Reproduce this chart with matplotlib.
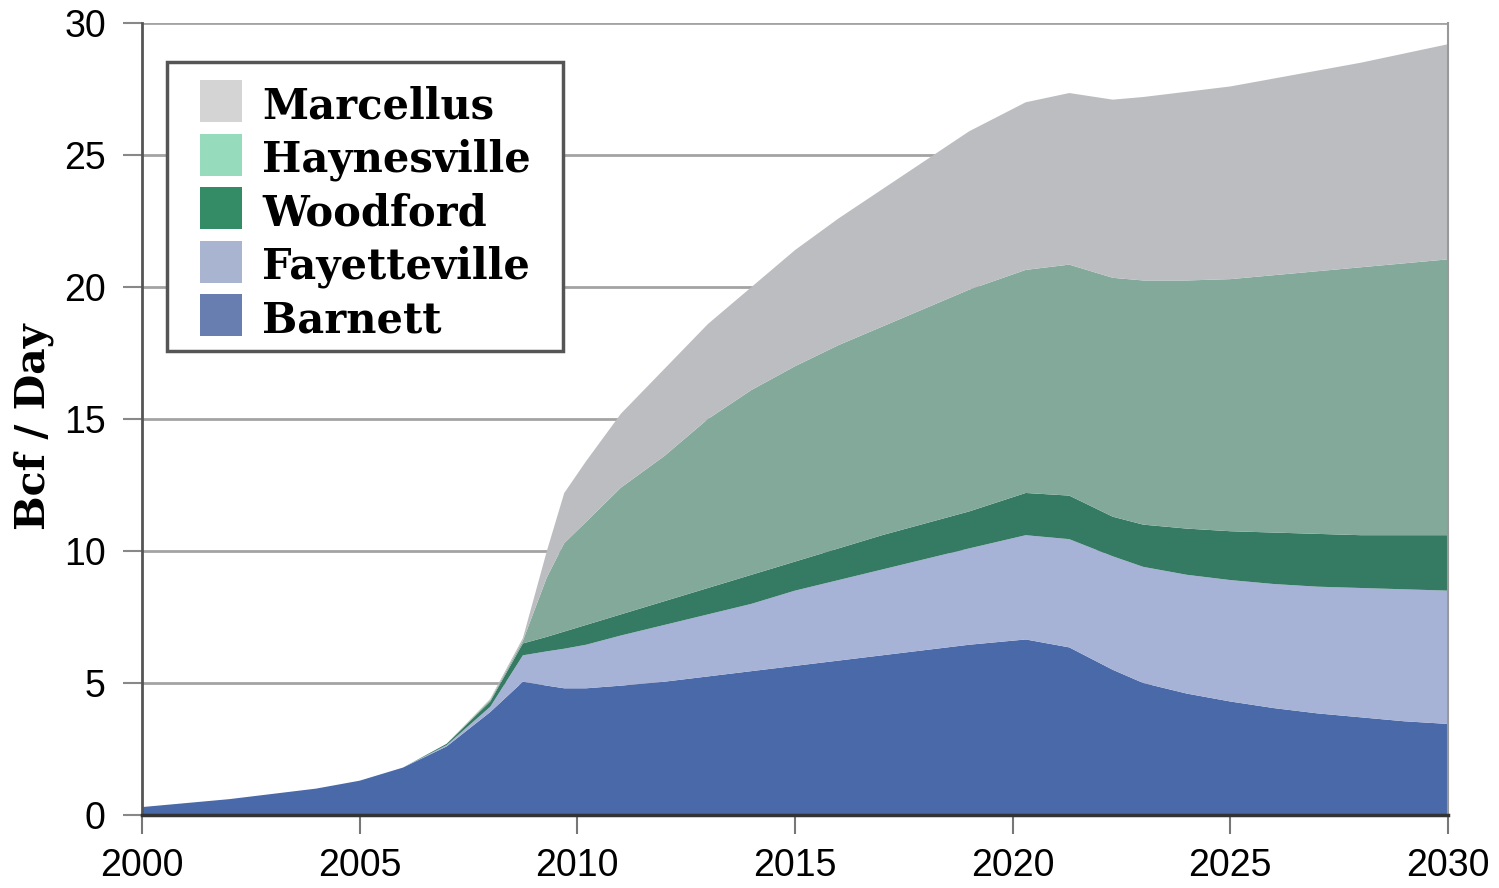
import numpy as np
import matplotlib.pyplot as plt
from matplotlib.patches import Rectangle

# year positions (a few fractional points where the curves kink)
years = [2000, 2002, 2004, 2005, 2006, 2007, 2008, 2008.75, 2009.3, 2009.7,
         2010.2, 2011, 2012, 2013, 2014, 2015, 2016, 2017, 2018, 2019,
         2020.3, 2021.3, 2022.3, 2023, 2024, 2025, 2026, 2027, 2028, 2029, 2030]

# production by play, Bcf/day
barnett = [0.3, 0.6, 1.0, 1.3, 1.8, 2.6, 3.9, 5.05, 4.9, 4.8,
           4.8, 4.9, 5.05, 5.25, 5.45, 5.65, 5.85, 6.05, 6.25, 6.45,
           6.65, 6.35, 5.5, 5.0, 4.6, 4.3, 4.05, 3.85, 3.7, 3.55, 3.45]
fayetteville = [0, 0, 0, 0, 0, 0.05, 0.2, 1.0, 1.3, 1.5,
                1.65, 1.9, 2.15, 2.35, 2.55, 2.85, 3.05, 3.25, 3.45, 3.65,
                3.95, 4.1, 4.3, 4.4, 4.5, 4.6, 4.7, 4.8, 4.9, 5.0, 5.05]
woodford = [0, 0, 0, 0, 0, 0.05, 0.2, 0.45, 0.55, 0.65,
            0.75, 0.8, 0.9, 1.0, 1.1, 1.1, 1.2, 1.3, 1.35, 1.4,
            1.6, 1.65, 1.5, 1.6, 1.75, 1.85, 1.95, 2.0, 2.0, 2.05, 2.1]
haynesville = [0, 0, 0, 0, 0, 0, 0.05, 0.1, 2.25, 3.35,
               3.9, 4.8, 5.5, 6.4, 7.0, 7.4, 7.7, 7.9, 8.15, 8.4,
               8.45, 8.75, 9.05, 9.25, 9.4, 9.55, 9.75, 9.95, 10.15, 10.3, 10.45]
marcellus = [0, 0, 0, 0, 0, 0, 0.05, 0.1, 1.0, 1.9,
             2.3, 2.8, 3.3, 3.6, 3.9, 4.4, 4.8, 5.2, 5.6, 6.0,
             6.35, 6.5, 6.75, 6.95, 7.15, 7.3, 7.45, 7.6, 7.75, 7.95, 8.15]

plays = ['Barnett', 'Fayetteville', 'Woodford', 'Haynesville', 'Marcellus']
area_colors = ['#4a69a8', '#a6b2d6', '#357a62', '#82a99a', '#bcbdc1']
legend_colors = ['#687db0', '#a9b5d0', '#348c66', '#96dcbc', '#d4d4d4']

serif_bold = {'family': 'DejaVu Serif', 'weight': 'bold', 'size': 30}

fig = plt.figure(figsize=(14.99, 8.88), dpi=100)
ax = fig.add_axes([0.0947, 0.0822, 0.8713, 0.8918])

ax.stackplot(years, barnett, fayetteville, woodford, haynesville, marcellus,
             colors=area_colors, linewidth=0, zorder=2)

ax.set_xlim(2000, 2030)
ax.set_ylim(0, 30)
ax.set_xticks(np.arange(2000, 2031, 5))
ax.set_yticks(np.arange(0, 31, 5))
ax.yaxis.grid(True, color='#a3a3a3', linewidth=2, zorder=1)
ax.set_axisbelow(True)

for lab in ax.get_xticklabels() + ax.get_yticklabels():
    lab.set_fontfamily('Liberation Sans')
    lab.set_fontsize(27)
ax.tick_params(axis='x', length=14, width=1.5, color='#777777', pad=10)
ax.tick_params(axis='y', length=14, width=1.5, color='#888888', pad=12)

ax.spines['left'].set_color('#555555')
ax.spines['left'].set_linewidth(2)
ax.spines['bottom'].set_color('#333333')
ax.spines['bottom'].set_linewidth(2.5)
ax.spines['bottom'].set_zorder(3)
ax.spines['top'].set_visible(False)
ax.spines['right'].set_color('#999999')
ax.spines['right'].set_linewidth(1.5)

ax.set_ylabel('Bcf / Day', fontdict={**serif_bold, 'size': 29.5})
ax.yaxis.set_label_coords(-0.067, 0.49)

# hand-built legend box, top layer first
ax.add_patch(Rectangle((0.0191, 0.5859), 0.3033, 0.3649, transform=ax.transAxes,
                       facecolor='white', edgecolor='#555555', linewidth=2.5,
                       zorder=5, clip_on=False))
row_h = 0.0676
for i, (name, col) in enumerate(zip(plays[::-1], legend_colors[::-1])):
    base = 0.8801 - i * row_h
    ax.add_patch(Rectangle((0.0444, base - 0.005), 0.0322, 0.053,
                           transform=ax.transAxes, facecolor=col,
                           edgecolor='none', zorder=6))
    ax.text(0.0919, base, name, transform=ax.transAxes, va='baseline',
            ha='left', fontdict=serif_bold, zorder=6)

plt.savefig('out.png', dpi=100)
